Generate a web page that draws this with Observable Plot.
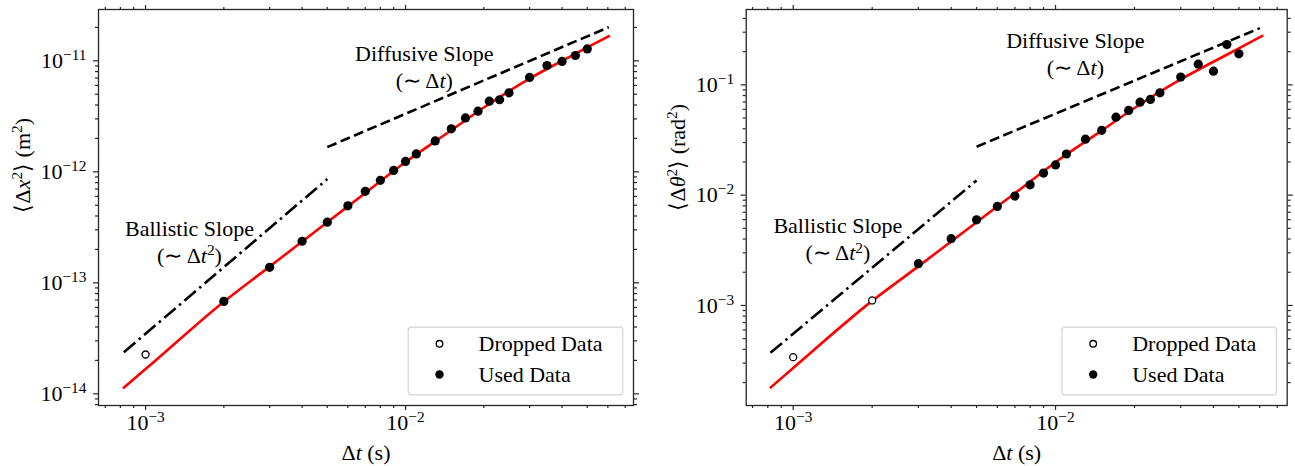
<!DOCTYPE html>
<html><head><meta charset="utf-8">
<script src="https://cdn.jsdelivr.net/npm/d3@7"></script>
<script src="https://cdn.jsdelivr.net/npm/@observablehq/plot@0.6"></script>
<style>
html,body{margin:0;padding:0;background:#fff;}
#row{display:flex;width:1295px;height:466px;overflow:hidden;}
</style></head><body><div id="row"></div>
<script>
// ---- data ----
const dtValues = [0.001, 0.002, 0.003, 0.004, 0.005, 0.006, 0.007, 0.008, 0.009, 0.010, 0.011,
  0.013, 0.015, 0.017, 0.019, 0.021, 0.023, 0.025, 0.030, 0.035, 0.040, 0.045, 0.050];
const msdX = [2.26e-14, 6.8e-14, 1.38e-13, 2.37e-13, 3.52e-13, 4.94e-13, 6.68e-13, 8.39e-13, 1.03e-12,
  1.24e-12, 1.45e-12, 1.90e-12, 2.44e-12, 3.06e-12, 3.52e-12, 4.33e-12, 4.46e-12, 5.15e-12,
  7.08e-12, 9.08e-12, 9.87e-12, 1.117e-11, 1.28e-11];
const msdTheta = [3.40e-4, 1.11e-3, 2.39e-3, 4.03e-3, 5.98e-3, 7.91e-3, 9.8e-3, 1.24e-2, 1.585e-2,
  1.88e-2, 2.36e-2, 3.22e-2, 3.87e-2, 5.09e-2, 5.86e-2, 6.97e-2, 7.38e-2, 8.47e-2,
  0.1175, 0.154, 0.133, 0.232, 0.191];
const droppedCountX = 1;
const droppedCountTheta = 2;

// fitted curve (red), read at several Δt along the curve
const fitDtX = [8.18e-4, 0.001, 0.002, 0.003, 0.005, 0.007, 0.01, 0.015, 0.02, 0.03, 0.04, 0.05, 0.0611];
const fitValX = [1.12e-14, 1.67e-14, 6.76e-14, 1.40e-13, 3.51e-13, 6.45e-13, 1.225e-12, 2.37e-12,
  3.80e-12, 6.92e-12, 1.0e-11, 1.32e-11, 1.69e-11];
const fitDtTheta = [8.15e-4, 0.001, 0.002, 0.003, 0.005, 0.007, 0.01, 0.015, 0.02, 0.03, 0.04, 0.05, 0.0619];
const fitValTheta = [1.78e-4, 2.71e-4, 1.10e-3, 2.26e-3, 5.69e-3, 1.04e-2, 1.99e-2, 3.85e-2,
  6.17e-2, 0.112, 0.162, 0.214, 0.2806];
// guide slopes, endpoints
const ballDtX = [8.25e-4, 0.005], ballValX = [2.37e-14, 8.6e-13];
const diffDtX = [0.005, 0.0605], diffValX = [1.67e-12, 2.01e-11];
const ballDtTheta = [8.19e-4, 0.005], ballValTheta = [3.72e-4, 1.36e-2];
const diffDtTheta = [0.005, 0.0601], diffValTheta = [2.75e-2, 0.3266];

// axis limits
const xLimitsX = [6.59e-4, 0.0753], yLimitsX = [7.85e-15, 2.9e-11];
const xLimitsTheta = [6.62e-4, 0.0764], yLimitsTheta = [1.239e-4, 0.482];

// tick labels
const xMajorTicks = [1e-3, 1e-2];
const yMajorTicksX = [1e-14, 1e-13, 1e-12, 1e-11];
const yMajorTicksTheta = [1e-3, 1e-2, 1e-1];

// texts (markup: *italic*, ^superscript^)
const legendLabels = ["Dropped Data", "Used Data"];
const ballisticLines = ["Ballistic Slope", "(∼ Δ*t*^2^)"];
const diffusiveLines = ["Diffusive Slope", "(∼ Δ*t*)"];
const xAxisLabel = "Δ*t* (s)";
const yAxisLabelX = "⟨Δ*x*^2^⟩ (m^2^)";
const yAxisLabelTheta = "⟨Δ*θ*^2^⟩ (rad^2^)";
// annotation anchor points (data coords)
const ballisticAtX = [1.475e-3, 2.33e-13], diffusiveAtX = [1.18e-2, 8.8e-12];
const ballisticAtTheta = [1.48e-3, 3.93e-3], diffusiveAtTheta = [1.19e-2, 0.188];

// ---- drawing ----
const FONT = 22;
function minorTicks(lo, hi) {
  const out = [];
  for (let e = Math.floor(Math.log10(lo)); e <= Math.ceil(Math.log10(hi)); e++)
    for (let k = 2; k <= 9; k++) { const v = k * Math.pow(10, e); if (v >= lo && v <= hi) out.push(v); }
  return out;
}
const fmt = d => `10^−${Math.round(-Math.log10(d))}^`;
const pts = (xs, ys) => xs.map((t, i) => ({t, v: ys[i]}));

function panel(c) {
  const rows = dtValues.map((t, i) => ({t, v: c.msd[i], dropped: i < c.nDropped}));
  const mt = 9, mb = 61, H = 466;
  const fw = c.width - c.ml - c.mr, fh = H - mt - mb;
  const ax = {stroke: "#262626", strokeWidth: 1.2, label: null};
  const noText = {fill: "none", tickFormat: () => ""};
  const xMinor = minorTicks(...c.xDomain), yMinor = minorTicks(...c.yDomain);
  return Plot.plot({
    width: c.width, height: H, marginLeft: c.ml, marginRight: c.mr, marginTop: mt, marginBottom: mb,
    style: {fontFamily: "'Liberation Serif', serif", fontSize: FONT + "px", color: "black", background: "white", overflow: "visible"},
    x: {type: "log", domain: c.xDomain},
    y: {type: "log", domain: c.yDomain},
    marks: [
      Plot.line(pts(c.fitT, c.fitV), {x: "t", y: "v", stroke: "#ff0000", strokeWidth: 2.6, strokeLinecap: "butt", curve: "monotone-x"}),
      Plot.line(pts(c.ballT, c.ballV), {x: "t", y: "v", stroke: "black", strokeWidth: 2.6, strokeDasharray: "15,4.5,2.5,4.5", strokeLinecap: "butt"}),
      Plot.line(pts(c.diffT, c.diffV), {x: "t", y: "v", stroke: "black", strokeWidth: 2.6, strokeDasharray: "10,4.5", strokeLinecap: "butt"}),
      Plot.dot(rows.filter(d => d.dropped), {x: "t", y: "v", r: 3.5, fill: "white", stroke: "black", strokeWidth: 1.3}),
      Plot.dot(rows.filter(d => !d.dropped), {x: "t", y: "v", r: 4.6, fill: "black"}),
      Plot.text([{t: c.ballAt[0], v: c.ballAt[1], s: ballisticLines[0]}], {x: "t", y: "v", text: "s", dy: -13.5, fontSize: FONT, fill: "black"}),
      Plot.text([{t: c.ballAt[0], v: c.ballAt[1], s: ballisticLines[1]}], {x: "t", y: "v", text: "s", dy: 13.5, fontSize: FONT, fill: "black"}),
      Plot.text([{t: c.diffAt[0], v: c.diffAt[1], s: diffusiveLines[0]}], {x: "t", y: "v", text: "s", dy: -13.5, fontSize: FONT, fill: "black"}),
      Plot.text([{t: c.diffAt[0], v: c.diffAt[1], s: diffusiveLines[1]}], {x: "t", y: "v", text: "s", dy: 13.5, fontSize: FONT, fill: "black"}),
      Plot.frame({stroke: "#262626", strokeWidth: 1.3}),
      Plot.axisX({...ax, anchor: "bottom", ticks: xMajorTicks, tickSize: 5, tickPadding: 4, tickFormat: fmt, fontSize: FONT, fill: "black"}),
      Plot.axisX({...ax, ...noText, anchor: "bottom", ticks: xMinor, tickSize: 3}),
      Plot.axisX({...ax, ...noText, anchor: "top", ticks: xMajorTicks, tickSize: 5}),
      Plot.axisX({...ax, ...noText, anchor: "top", ticks: xMinor, tickSize: 3}),
      Plot.axisY({...ax, anchor: "left", ticks: c.yMajor, tickSize: 5, tickPadding: 7, tickFormat: fmt, fontSize: FONT, fill: "black"}),
      Plot.axisY({...ax, ...noText, anchor: "left", ticks: yMinor, tickSize: 3}),
      Plot.axisY({...ax, ...noText, anchor: "right", ticks: c.yMajor, tickSize: 5}),
      Plot.axisY({...ax, ...noText, anchor: "right", ticks: yMinor, tickSize: 3}),
      Plot.text([xAxisLabel], {text: d => d, frameAnchor: "bottom", dy: 47, lineAnchor: "middle", fontSize: FONT, fill: "black"}),
      Plot.text([c.yLabel], {text: d => d, frameAnchor: "left", dx: c.yLabelDx, dy: c.yLabelDy, rotate: -90, lineAnchor: "middle", fontSize: FONT, fill: "black"}),
      // legend
      Plot.frame({insetLeft: fw - 10.7 - 214.6, insetRight: 10.7, insetTop: fh - 10.7 - 67.6, insetBottom: 10.7,
        fill: "white", fillOpacity: 0.8, stroke: "#d4d4d4", strokeWidth: 1.2, rx: 3}),
      Plot.dot([0], {frameAnchor: "bottom-right", dx: -194, dy: -61.7, r: 3.3, fill: "white", stroke: "black", strokeWidth: 1.3}),
      Plot.dot([0], {frameAnchor: "bottom-right", dx: -194, dy: -31, r: 4.2, fill: "black"}),
      Plot.text([legendLabels[0]], {text: d => d, frameAnchor: "bottom-right", dx: -155, dy: -61.7, textAnchor: "start", lineAnchor: "middle", fontSize: FONT, fill: "black"}),
      Plot.text([legendLabels[1]], {text: d => d, frameAnchor: "bottom-right", dx: -155, dy: -31, textAnchor: "start", lineAnchor: "middle", fontSize: FONT, fill: "black"})
    ]
  });
}

const left = panel({width: 647, ml: 98, mr: 14, msd: msdX, nDropped: droppedCountX,
  xDomain: xLimitsX, yDomain: yLimitsX, yMajor: yMajorTicksX,
  fitT: fitDtX, fitV: fitValX, ballT: ballDtX, ballV: ballValX, diffT: diffDtX, diffV: diffValX,
  ballAt: ballisticAtX, diffAt: diffusiveAtX, yLabel: yAxisLabelX, yLabelDx: -76, yLabelDy: 5});
const right = panel({width: 648, ml: 98.7, mr: 8.3, msd: msdTheta, nDropped: droppedCountTheta,
  xDomain: xLimitsTheta, yDomain: yLimitsTheta, yMajor: yMajorTicksTheta,
  fitT: fitDtTheta, fitV: fitValTheta, ballT: ballDtTheta, ballV: ballValTheta, diffT: diffDtTheta, diffV: diffValTheta,
  ballAt: ballisticAtTheta, diffAt: diffusiveAtTheta, yLabel: yAxisLabelTheta, yLabelDx: -68.7, yLabelDy: 3});

const row = document.getElementById("row");
row.appendChild(left);
row.appendChild(right);

// turn *italic* and ^sup^ markup into tspans
function richify(svg) {
  svg.querySelectorAll("text").forEach(el => {
    if (el.querySelector("tspan")) return;
    const s = el.textContent;
    if (!/[*^]/.test(s)) return;
    const fs = parseFloat(getComputedStyle(el).fontSize) || FONT;
    const shift = fs * 0.36;
    el.textContent = "";
    let italic = false, sup = false, wasSup = false;
    for (const tok of s.split(/([*^])/)) {
      if (tok === "*") { italic = !italic; continue; }
      if (tok === "^") { sup = !sup; continue; }
      if (!tok) continue;
      const ts = document.createElementNS("http://www.w3.org/2000/svg", "tspan");
      ts.textContent = tok;
      if (italic) ts.setAttribute("font-style", "italic");
      if (sup) ts.setAttribute("font-size", (fs * 0.7) + "px");
      if (sup && !wasSup) ts.setAttribute("dy", -shift);
      if (!sup && wasSup) ts.setAttribute("dy", shift);
      wasSup = sup;
      el.appendChild(ts);
    }
  });
}
richify(left);
richify(right);
</script></body></html>
